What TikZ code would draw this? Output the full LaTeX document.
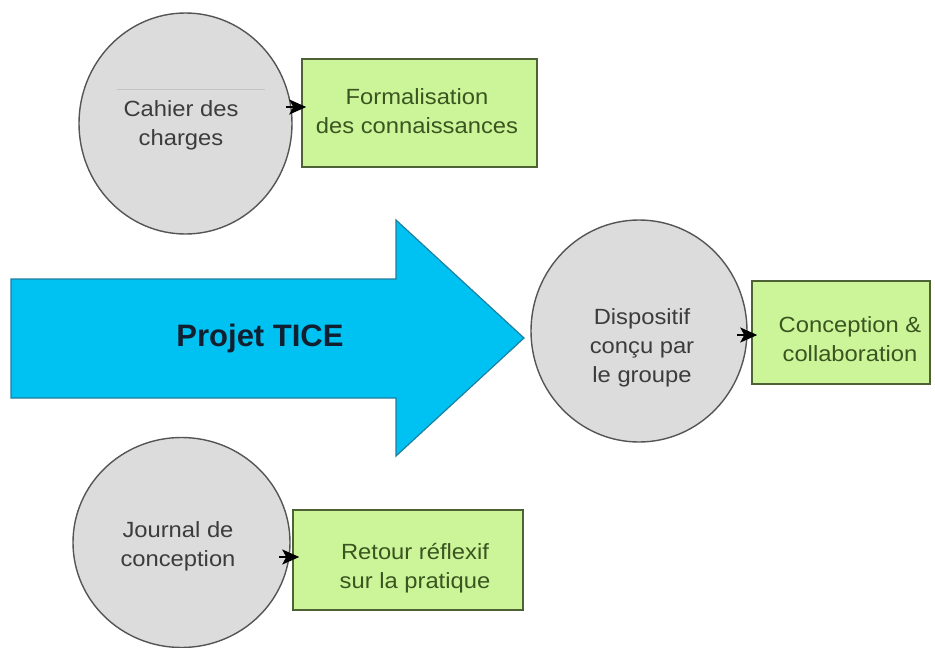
\documentclass[tikz,border=0pt]{standalone}
\usepackage{fontspec}
\setmainfont[FakeStretch=1.08]{Liberation Sans}
\newfontfamily\ticefont{Liberation Sans}
\usetikzlibrary{shapes.geometric,arrows.meta}
\definecolor{blobfill}{HTML}{DCDCDC}
\definecolor{blobdraw}{HTML}{555555}
\definecolor{blobtext}{HTML}{3C3C3C}
\definecolor{boxfill}{HTML}{CCF59A}
\definecolor{boxdraw}{HTML}{4E6236}
\definecolor{boxtext}{HTML}{3A5520}
\definecolor{arrowfill}{HTML}{00C2F2}
\definecolor{arrowdraw}{HTML}{1F7FA0}
\definecolor{ticetext}{HTML}{102030}
\definecolor{faintline}{HTML}{C4C4C4}
\tikzset{
  blob/.style={ellipse, draw=blobdraw, fill=blobfill, line width=1.4pt, inner sep=0pt},
  greenbox/.style={rectangle, draw=boxdraw, fill=boxfill, line width=1.5pt, inner sep=0pt},
  blobtxt/.style={align=center, text=blobtext, font=\fontsize{22}{29}\selectfont, inner sep=0pt},
  boxtxt/.style={align=center, text=boxtext, font=\fontsize{22}{29}\selectfont, inner sep=0pt},
  conn/.style={draw=black, line width=2pt, -{Stealth[length=17pt,width=15pt,inset=4pt]}},
}
\begin{document}
\begin{tikzpicture}[x=1pt,y=-1pt]
\useasboundingbox (0,0) rectangle (935,648);
\fill[white] (0,0) rectangle (935,648);
\begin{scope}
\clip (0,0) rectangle (935,648);
% big arrow
\draw[fill=arrowfill, draw=arrowdraw, line width=1.2pt, line join=miter]
  (11,279) -- (396,279) -- (396,220) -- (524,338) -- (396,456) -- (396,398) -- (11,398) -- cycle;
\node[font=\ticefont\bfseries\fontsize{31}{36}\selectfont, text=ticetext, inner sep=0pt] (tice) at (260,338) {Projet TICE};

% ellipses
\node[blob, minimum width=213pt, minimum height=221pt] (cahier) at (185.5,123.5) {};
\draw[faintline, line width=0.8pt] (117,89) -- (265,89);
\node[blobtxt] (cahiertxt) at (181,125) {Cahier des\\charges};

\node[blob, minimum width=216pt, minimum height=222pt] (disp) at (639,331) {};
\node[blobtxt] (disptxt) at (642,348) {Dispositif\\conçu par\\le groupe};

\node[blob, minimum width=217pt, minimum height=210pt] (journal) at (181.5,542.5) {};
\node[blobtxt] (journaltxt) at (178,546) {Journal de\\conception};

% green boxes
\node[greenbox, minimum width=235pt, minimum height=108pt] (formal) at (419.5,113) {};
\node[boxtxt] (formaltxt) at (417,111) {Formalisation\\des connaissances};

\node[greenbox, minimum width=178pt, minimum height=103pt] (concep) at (841,332.5) {};
\node[boxtxt] (conceptxt) at (850,339) {Conception \&\\collaboration};

\node[greenbox, minimum width=230pt, minimum height=100pt] (retour) at (408,560) {};
\node[boxtxt] (retourtxt) at (415,568) {Retour réflexif\\sur la pratique};

% connectors
\coordinate (c1) at (286,107);
\coordinate (c2) at (737,335);
\coordinate (c3) at (279,557);
\draw[conn] (c1) -- ([xshift=5pt]formal.west |- c1);
\draw[conn] (c2) -- ([xshift=6pt]concep.west |- c2);
\draw[conn] (c3) -- ([xshift=7pt]retour.west |- c3);
\end{scope}
\end{tikzpicture}
\end{document}
